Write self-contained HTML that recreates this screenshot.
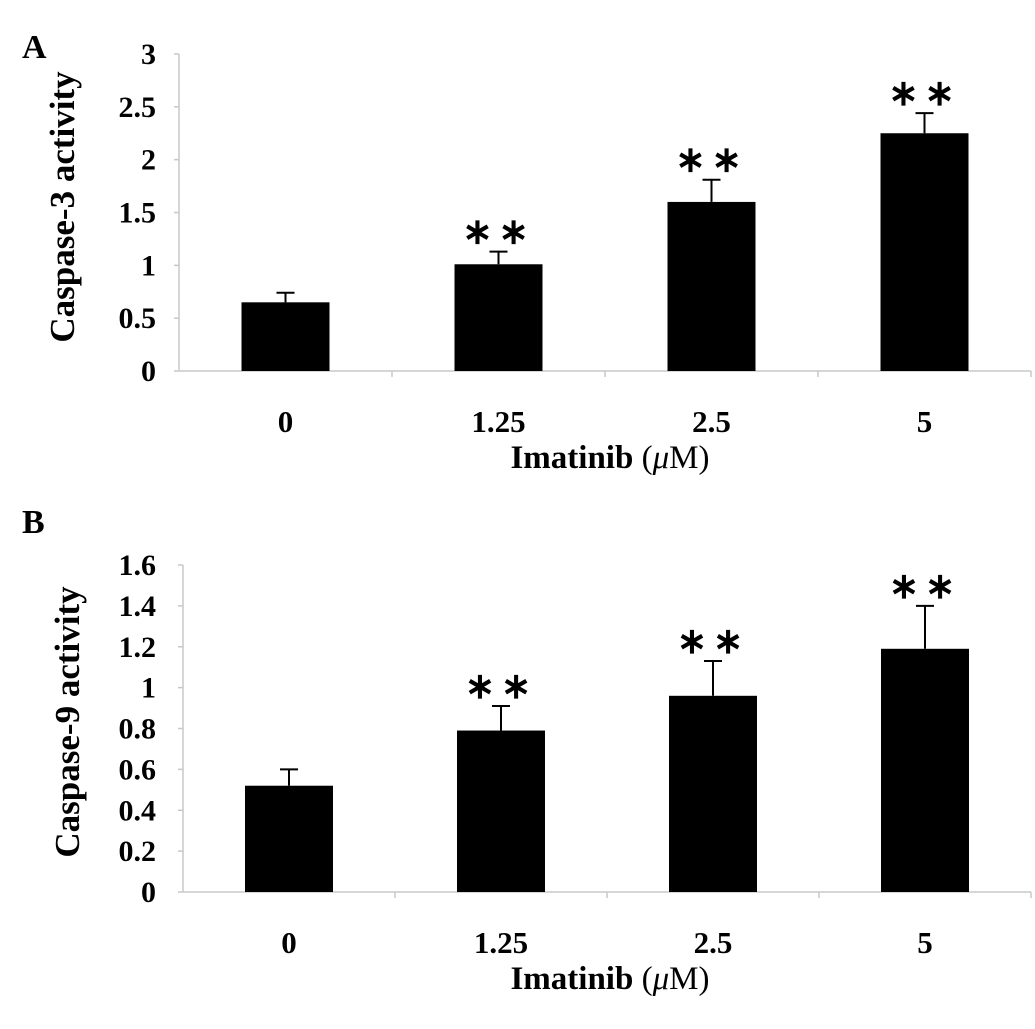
<!DOCTYPE html>
<html><head><meta charset="utf-8"><style>
body{margin:0;background:#fff;}
svg text{font-family:"Liberation Serif",serif;font-weight:bold;fill:#000;}
</style></head><body>
<svg id="c" width="1035" height="1024"></svg>
<script>
const categories=["0","1.25","2.5","5"];
const valuesA=[0.65,1.01,1.60,2.25];
const errorsA=[0.74,1.13,1.81,2.44];
const valuesB=[0.52,0.79,0.96,1.19];
const errorsB=[0.60,0.91,1.13,1.40];
const sigA=[false,true,true,true];
const sigB=[false,true,true,true];
const ticksA=[0,0.5,1,1.5,2,2.5,3];
const ticksB=[0,0.2,0.4,0.6,0.8,1,1.2,1.4,1.6];
const NS="http://www.w3.org/2000/svg";
const svg=document.getElementById('c');
function mk(t,a,p){const e=document.createElementNS(NS,t);for(const k in a)e.setAttribute(k,a[k]);(p||svg).appendChild(e);return e;}
function panel(o){
 const g=mk('g',{});
 
 
 const ymax=o.ticks[o.ticks.length-1];
 const y=v=>o.y0-(v/ymax)*(o.y0-o.yTop);
 const bw=(o.xEnd-o.x0)/categories.length;
 const x=i=>o.x0+bw*(i+0.5);
 const ya=mk('line',{x1:o.x0,x2:o.x0,y1:o.yTop,y2:o.y0,stroke:'#c8c8c8','stroke-width':1.5},g);
 
 const xa=mk('line',{x1:o.x0,x2:o.xEnd,y1:o.y0,y2:o.y0,stroke:'#c8c8c8','stroke-width':1.5},g);
 
 o.ticks.forEach(t=>{
  mk('line',{x1:o.x0-5,x2:o.x0,y1:y(t),y2:y(t),stroke:'#c8c8c8','stroke-width':1.5},g);
  const tl=mk('text',{x:156,y:y(t)+10,'text-anchor':'end','font-size':30},g);tl.textContent=String(t);
  
 });
 for(let i=1;i<=categories.length;i++){mk('line',{x1:o.x0+bw*i,x2:o.x0+bw*i,y1:o.y0,y2:o.y0+6,stroke:'#c8c8c8','stroke-width':1.5},g);}
 categories.forEach((c,i)=>{
  const cx=x(i);
  const er=mk('path',{d:`M${cx},${y(o.vals[i])}V${y(o.errs[i])}M${cx-9},${y(o.errs[i])}H${cx+9}`,stroke:'#000','stroke-width':2,fill:'none'},g);
  
  const b=mk('rect',{x:cx-44,y:y(o.vals[i]),width:88,height:o.y0-y(o.vals[i]),fill:'#000'},g);
  
  if(o.sig[i]){const s=mk('text',{x:cx,y:y(o.errs[i])-8,'text-anchor':'middle','font-size':36,'font-weight':'normal','letter-spacing':6,fill:'#222'},g);s.textContent='∗∗';
   }
  const xl=mk('text',{x:cx,y:o.y0+61,'text-anchor':'middle','font-size':31},g);xl.textContent=c;
  
 });
 const xt=mk('text',{x:610,y:o.y0+97,'text-anchor':'middle','font-size':33},g);
 xt.innerHTML='Imatinib <tspan font-weight="normal">(</tspan><tspan font-style="italic" font-weight="normal">μ</tspan><tspan font-weight="normal">M)</tspan>';
 
 const yt=mk('text',{x:0,y:0,'text-anchor':'middle','font-size':35,transform:`translate(${o.ytx},${o.ytc}) rotate(-90)`},g);
 yt.textContent=o.ytitle;
 
 const pl=mk('text',{x:22,y:o.labelY,'font-size':34},g);pl.textContent=o.label;
 
}
panel({name:'panel-a-caspase3',x0:179,xEnd:1031,y0:371,yTop:54,ticks:ticksA,vals:valuesA,errs:errorsA,sig:sigA,ytitle:'Caspase-3 activity',ytx:74,ytc:207,label:'A',labelY:58});
panel({name:'panel-b-caspase9',x0:183,xEnd:1031,y0:892,yTop:565,ticks:ticksB,vals:valuesB,errs:errorsB,sig:sigB,ytitle:'Caspase-9 activity',ytx:79,ytc:722,label:'B',labelY:533});
</script>
</body></html>
